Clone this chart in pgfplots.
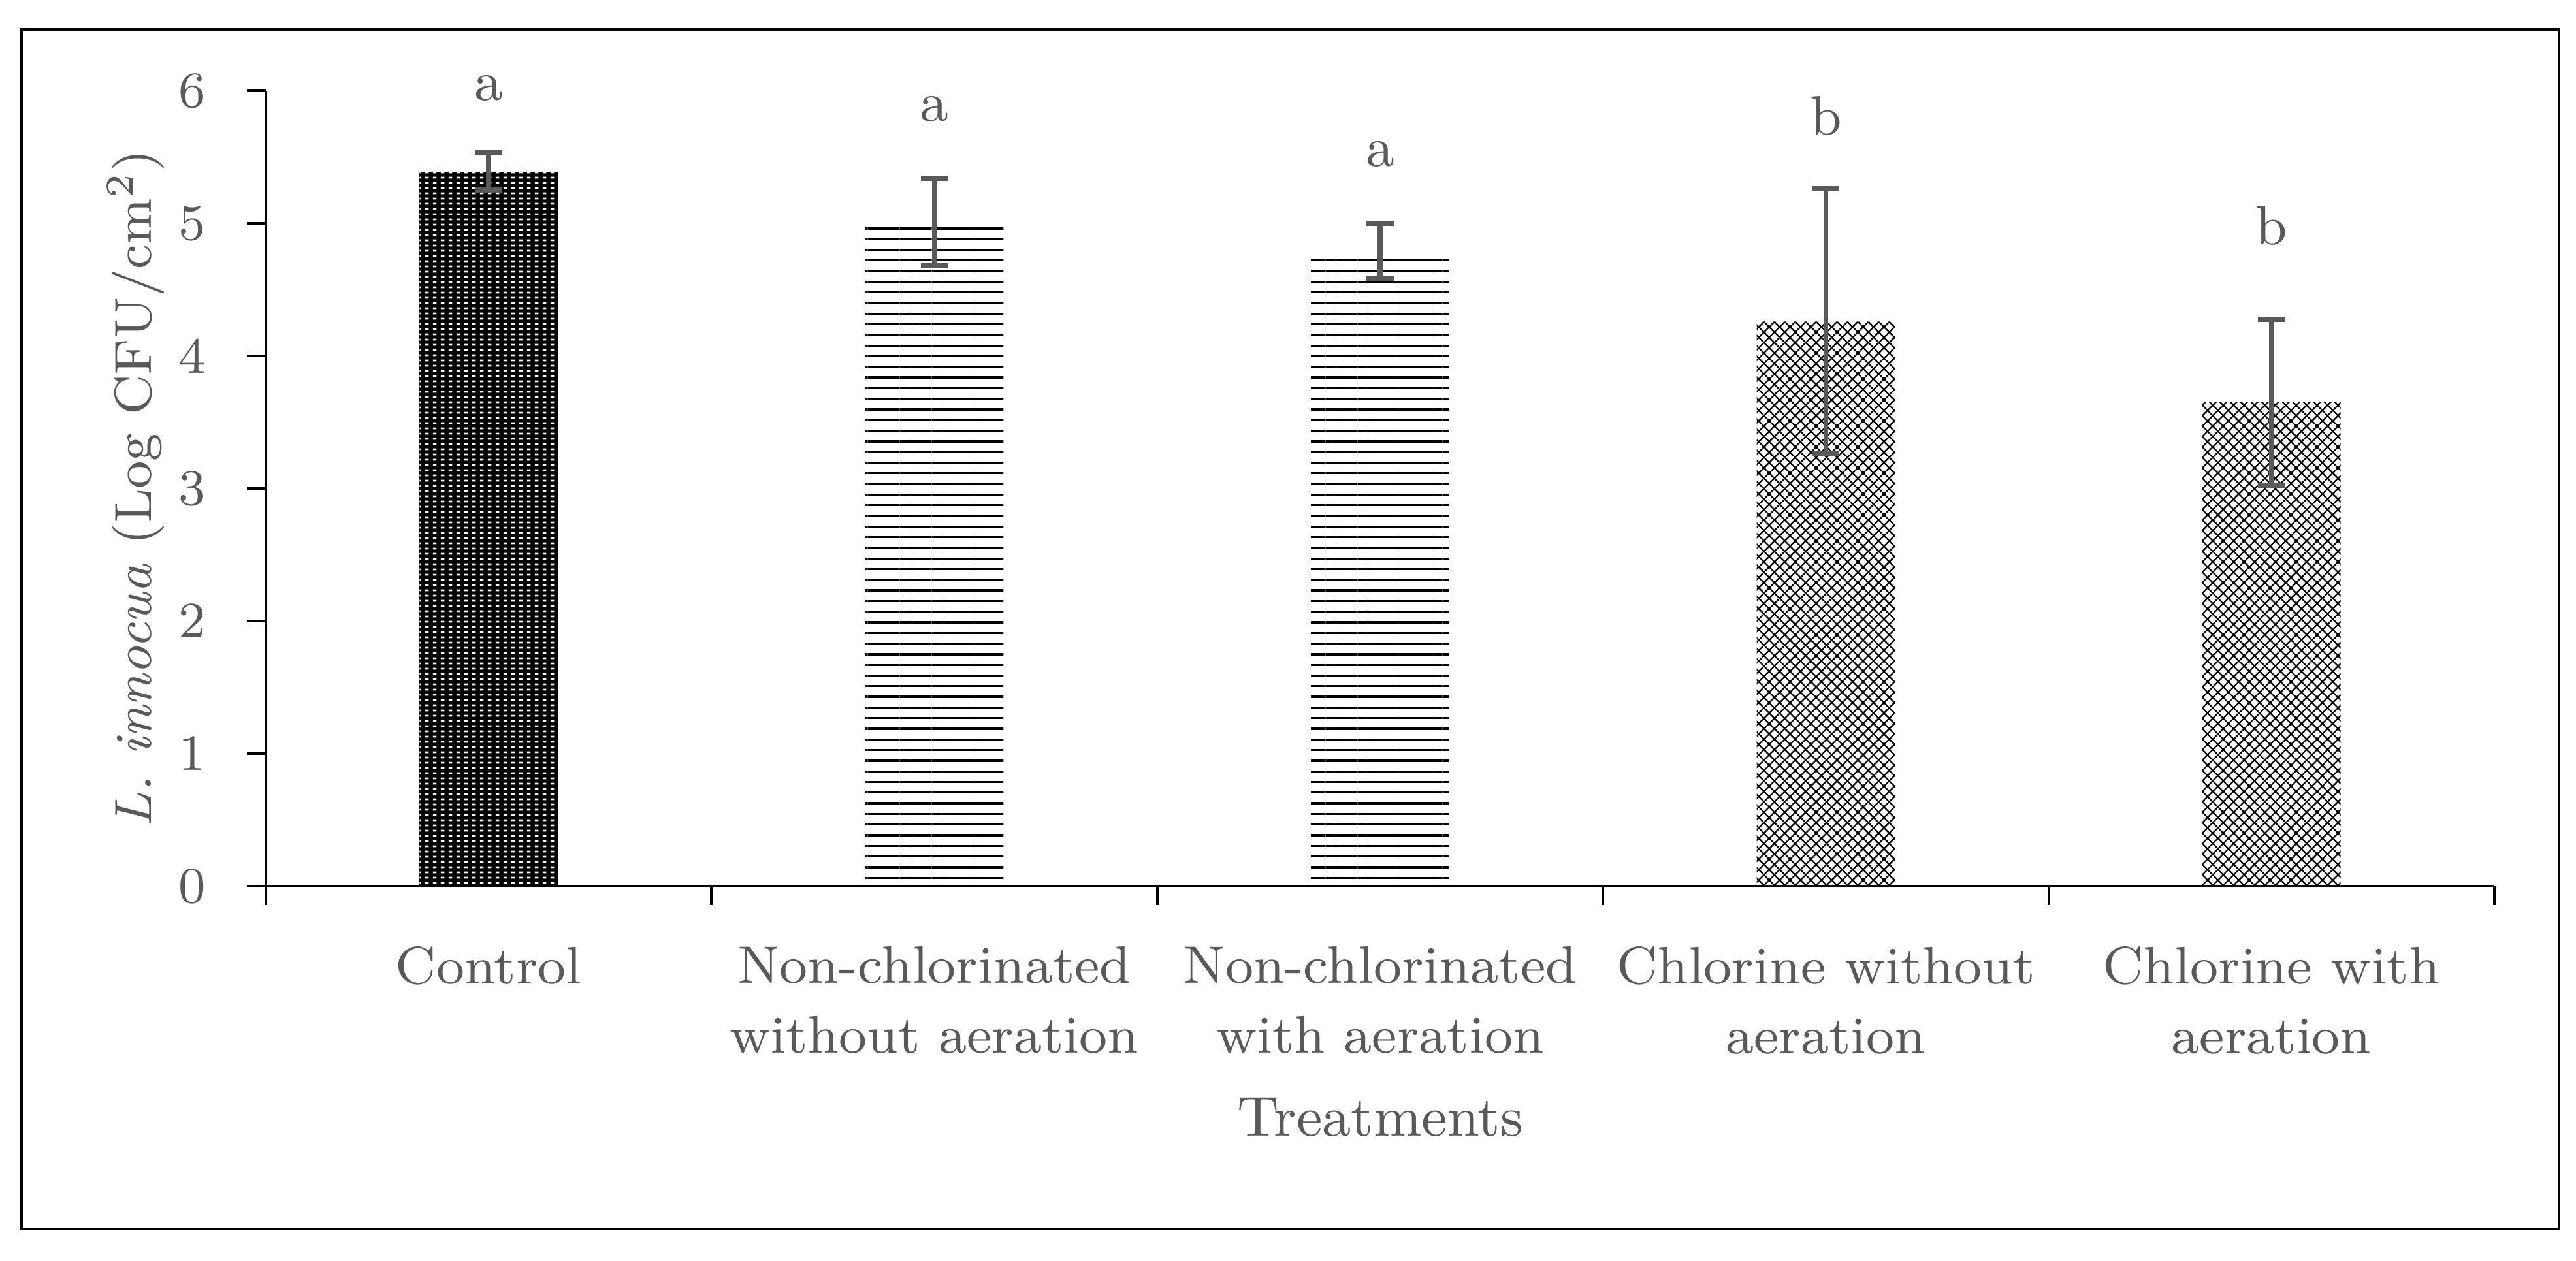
\documentclass[border=0pt]{standalone}
\usepackage{fontspec}
\usepackage{pgfplots}
\pgfplotsset{compat=1.18}
\usetikzlibrary{patterns,patterns.meta}
\definecolor{txt}{RGB}{89,89,89}
\definecolor{errc}{RGB}{89,89,89}
\tikzdeclarepattern{
  name=whitedash,
  type=uncolored,
  bottom left={(0pt,0pt)},
  top right={(1.2pt,0.8pt)},
  tile size={(1.2pt,0.8pt)},
  code={\fill (0.3pt,0.25pt) rectangle (0.9pt,0.55pt);}
}
\begin{document}
\begin{tikzpicture}
\path[use as bounding box] (0,0) rectangle (394.4pt,-193.1pt);
\draw[line width=0.4pt] (3.3pt,-4.5pt) rectangle (391.8pt,-188.2pt);
\begin{axis}[
  at={(40.7pt,-135.7pt)}, anchor=south west,
  scale only axis, width=341.2pt, height=121.8pt,
  xmin=-0.5, xmax=4.5, ymin=0, ymax=6,
  axis lines*=left, axis line style={-, line width=0.4pt, black},
  tick align=outside, major tick length=2.9pt,
  tick style={line width=0.4pt, black},
  xtick={-0.5,0.5,...,4.5}, xticklabels={},
  ytick={0,1,...,6},
  extra x ticks={0,1,2,3,4},
  extra x tick labels={Control,{Non-chlorinated\\without aeration},{Non-chlorinated\\with aeration},{Chlorine without\\aeration},{Chlorine with\\aeration}},
  extra x tick style={major tick length=0pt, tick label style={align=center, font=\fontsize{8.1}{10.7}\selectfont, text=txt, yshift=-5.7pt}},
  yticklabel style={font=\fontsize{7.8}{9}\selectfont, text=txt, xshift=-2.8pt},
  /pgf/number format/assume math mode=true,
  xlabel={Treatments},
  ylabel={\textit{L. innocua} (Log CFU/cm\textsuperscript{2})},
  every axis x label/.style={at={(axis description cs:0.5,-0.3144)}, anchor=base, font=\fontsize{8.6}{10}\selectfont, text=txt},
  every axis y label/.style={at={(axis description cs:-0.0513,0.5)}, rotate=90, anchor=base, font=\fontsize{8.0}{10}\selectfont, text=txt},
  axis on top,
  clip=false,
  error bars/error bar style={color=errc, line width=0.76pt},
  error bars/error mark options={rotate=90, color=errc, line width=0.8pt, mark size=2.1pt},
]
% Control
\addplot[ybar, bar width=0.31, bar shift=0pt, draw=none, fill=black,
  postaction={pattern=whitedash, pattern color=white},
  error bars/.cd, y dir=both, y explicit]
  coordinates {(0,5.39) +- (0,0.14)};
% Non-chlorinated
\addplot[ybar, bar width=0.31, bar shift=0pt, draw=none,
  pattern={Lines[angle=0,distance=1.63pt,line width=0.33pt]}, pattern color=black,
  error bars/.cd, y dir=both, y explicit]
  coordinates {(1,5.01) +- (0,0.33) (2,4.79) +- (0,0.21)};
% Chlorine
\addplot[ybar, bar width=0.31, bar shift=0pt, draw=none,
  pattern={Hatch[angle=45,distance=1.13pt,line width=0.22pt]}, pattern color=black,
  error bars/.cd, y dir=both, y explicit]
  coordinates {(3,4.26) +- (0,1.0) (4,3.65) +- (0,0.625)};
\node[anchor=base, text=txt, font=\fontsize{8.5}{10}\selectfont] at (axis cs:0,5.93) {a};
\node[anchor=base, text=txt, font=\fontsize{8.5}{10}\selectfont] at (axis cs:1,5.77) {a};
\node[anchor=base, text=txt, font=\fontsize{8.5}{10}\selectfont] at (axis cs:2,5.43) {a};
\node[anchor=base, text=txt, font=\fontsize{8.5}{10}\selectfont] at (axis cs:3,5.67) {b};
\node[anchor=base, text=txt, font=\fontsize{8.5}{10}\selectfont] at (axis cs:4,4.84) {b};
\end{axis}
\end{tikzpicture}
\end{document}
